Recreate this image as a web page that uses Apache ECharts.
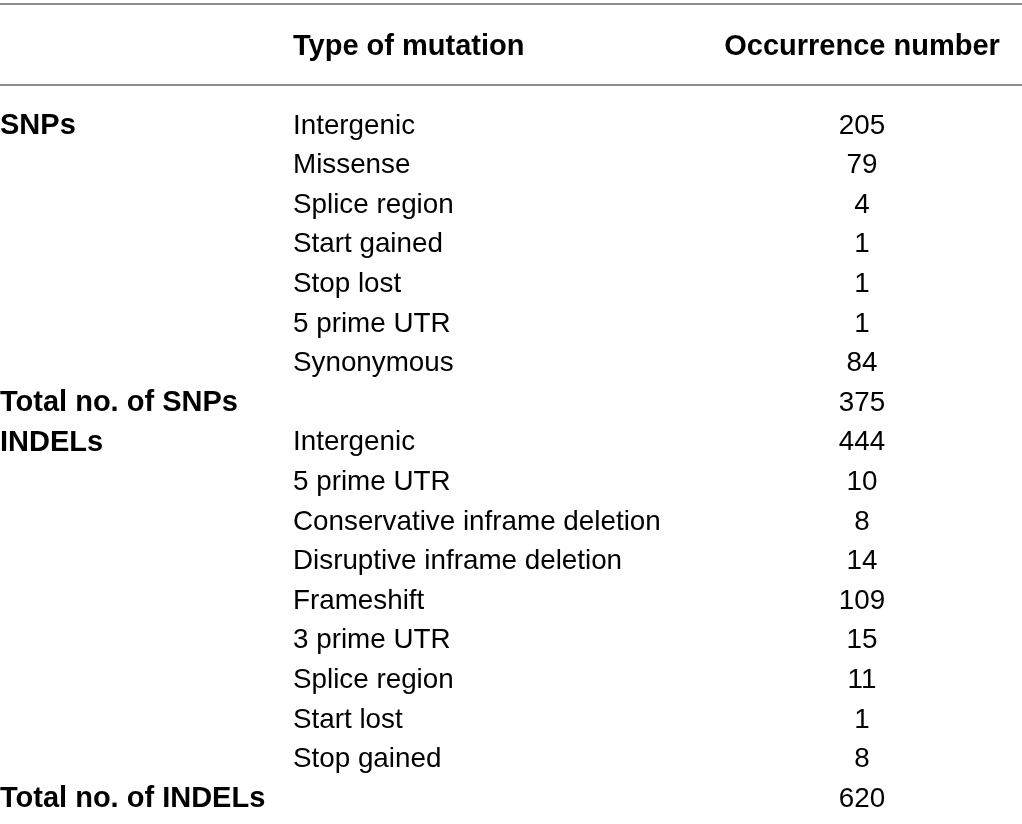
<!DOCTYPE html>
<html>
<head>
<meta charset="utf-8">
<script src="https://cdn.jsdelivr.net/npm/echarts@6/dist/echarts.min.js"></script>
<style>
  html, body { margin: 0; padding: 0; background: #fff; }
  #chart { width: 1022px; height: 824px; }
</style>
</head>
<body>
<div id="chart"></div>
<script>
// table content
const headers = ['Type of mutation', 'Occurrence number'];
const snpTypes = ['Intergenic', 'Missense', 'Splice region', 'Start gained', 'Stop lost', '5 prime UTR', 'Synonymous'];
const snpCounts = [205, 79, 4, 1, 1, 1, 84];
const snpTotal = 375;
const indelTypes = ['Intergenic', '5 prime UTR', 'Conservative inframe deletion', 'Disruptive inframe deletion',
  'Frameshift', '3 prime UTR', 'Splice region', 'Start lost', 'Stop gained'];
const indelCounts = [444, 10, 8, 14, 109, 15, 11, 1, 8];
const indelTotal = 620;
const groupNames = ['SNPs', 'INDELs'];
const totalNames = ['Total no. of SNPs', 'Total no. of INDELs'];

// layout (column anchors on x axis, rows on y axis)
const COL_GROUP = 0, COL_TYPE = 293, COL_COUNT = 862;
const HEADER_ROW = -2;
const FONT = '"Liberation Sans", Arial, sans-serif';

// build the row list
const rows = [];
function addBlock(name, types, counts, totalName, total) {
  types.forEach((t, i) => {
    rows.push({ group: i === 0 ? name : '', type: t, count: counts[i] });
  });
  rows.push({ group: totalName, type: '', count: total });
}
addBlock(groupNames[0], snpTypes, snpCounts, totalNames[0], snpTotal);
addBlock(groupNames[1], indelTypes, indelCounts, totalNames[1], indelTotal);

const groupData = [], typeData = [], countData = [];
rows.forEach((r, i) => {
  if (r.group) groupData.push({ value: [COL_GROUP, i], name: r.group });
  if (r.type) typeData.push({ value: [COL_TYPE, i], name: r.type });
  countData.push({ value: [COL_COUNT, i], name: String(r.count) });
});
const headerData = [
  { value: [COL_TYPE, HEADER_ROW], name: headers[0], label: { align: 'left' } },
  { value: [COL_COUNT, HEADER_ROW], name: headers[1], label: { align: 'center' } }
];

function textSeries(data, align, weight, size) {
  return {
    type: 'scatter',
    symbolSize: 0,
    silent: true,
    itemStyle: { opacity: 1 },
    data: data,
    label: {
      show: true,
      position: 'inside',
      align: align,
      verticalAlign: 'middle',
      formatter: p => p.name,
      fontFamily: FONT,
      fontSize: size,
      fontWeight: weight,
      color: '#000',
      opacity: 1,
      textBorderWidth: 0
    }
  };
}

const chart = echarts.init(document.getElementById('chart'));
const option = {
  animation: false,
  grid: { left: 0, right: 0, top: 0, bottom: 0 },
  xAxis: { type: 'value', min: 0, max: 1022, show: false },
  yAxis: { type: 'value', inverse: true, min: -3.1818, max: 17.626, show: false },
  series: [
    textSeries(headerData, 'left', 'bold', 29),
    Object.assign(textSeries(groupData, 'left', 'bold', 29), {
      markLine: {
        silent: true,
        symbol: 'none',
        label: { show: false },
        lineStyle: { color: '#8f8f8f', width: 2, type: 'solid', opacity: 1 },
        data: [{ yAxis: -3.08 }, { yAxis: -1.035 }]
      }
    }),
    textSeries(typeData, 'left', 'normal', 27.8),
    textSeries(countData, 'center', 'normal', 27.8)
  ]
};
chart.setOption(option);
</script>
</body>
</html>
